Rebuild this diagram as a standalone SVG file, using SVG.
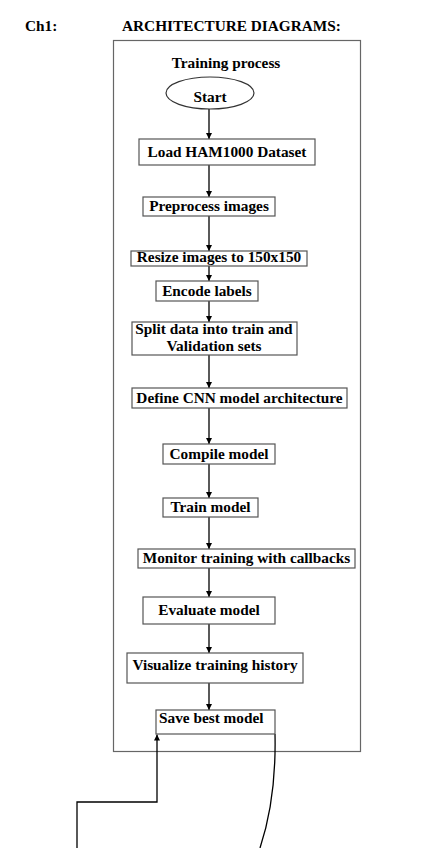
<svg xmlns="http://www.w3.org/2000/svg" width="435" height="848" viewBox="0 0 435 848">
<defs>
<marker id="ah" viewBox="0 0 10 10" refX="10" refY="5" markerWidth="6" markerHeight="6" orient="auto" markerUnits="userSpaceOnUse">
<path d="M0,0 L10,5 L0,10 z" fill="#000"/>
</marker>
</defs>
<style>
text{font-family:"Liberation Serif","Times New Roman",serif;font-weight:bold;font-size:15.3px;fill:#000}
.c{text-anchor:middle}
.box{fill:#fff;stroke:#555;stroke-width:1.2}
.frame{fill:none;stroke:#666;stroke-width:1.2}
.ln{fill:none;stroke:#000;stroke-width:1.3}
</style>
<rect width="435" height="848" fill="#fff"/>
<g id="title">
<text x="25" y="31">Ch1:</text>
<text x="122" y="31">ARCHITECTURE DIAGRAMS:</text>
</g>
<g id="frame">
<rect class="frame" x="113.5" y="40.5" width="247" height="711"/>
<text class="c" x="226" y="68">Training process</text>
</g>
<g id="connectors">
<line class="ln" x1="209" y1="109" x2="209" y2="139" marker-end="url(#ah)"/>
<line class="ln" x1="209" y1="165" x2="209" y2="197" marker-end="url(#ah)"/>
<line class="ln" x1="209" y1="216" x2="209" y2="251" marker-end="url(#ah)"/>
<line class="ln" x1="209" y1="266" x2="209" y2="281" marker-end="url(#ah)"/>
<line class="ln" x1="209" y1="301" x2="209" y2="322" marker-end="url(#ah)"/>
<line class="ln" x1="209" y1="355" x2="209" y2="388" marker-end="url(#ah)"/>
<line class="ln" x1="209" y1="408" x2="209" y2="444" marker-end="url(#ah)"/>
<line class="ln" x1="209" y1="464" x2="209" y2="498" marker-end="url(#ah)"/>
<line class="ln" x1="209" y1="517" x2="209" y2="549" marker-end="url(#ah)"/>
<line class="ln" x1="209" y1="568" x2="209" y2="597" marker-end="url(#ah)"/>
<line class="ln" x1="209" y1="624" x2="209" y2="653" marker-end="url(#ah)"/>
<line class="ln" x1="209" y1="683" x2="209" y2="710" marker-end="url(#ah)"/>
<path class="ln" d="M77,848 L77,802 L157,802 L157,734.5" marker-end="url(#ah)"/>
<path class="ln" d="M275,734 C276,780 271,815 260,848"/>
</g>
<g id="start">
<ellipse cx="210" cy="93" rx="44" ry="16" fill="#fff" stroke="#333" stroke-width="1.2"/>
<text class="c" x="210" y="102">Start</text>
</g>
<g id="load">
<rect class="box" x="139" y="139" width="176" height="26"/>
<text class="c" x="227" y="157">Load HAM1000 Dataset</text>
</g>
<g id="preprocess">
<rect class="box" x="143" y="197" width="132" height="19"/>
<text class="c" x="209" y="211">Preprocess images</text>
</g>
<g id="resize">
<rect class="box" x="131" y="251" width="176" height="15"/>
<text class="c" x="219" y="262">Resize images to 150x150</text>
</g>
<g id="encode">
<rect class="box" x="156" y="281" width="102" height="20"/>
<text class="c" x="207" y="296">Encode labels</text>
</g>
<g id="split">
<rect class="box" x="132" y="322" width="165" height="33"/>
<text class="c" x="214" y="334">Split data into train and</text>
<text class="c" x="214" y="351">Validation sets</text>
</g>
<g id="define">
<rect class="box" x="132" y="388" width="215" height="20"/>
<text class="c" x="239.5" y="403">Define CNN model architecture</text>
</g>
<g id="compile">
<rect class="box" x="163" y="444" width="112" height="20"/>
<text class="c" x="219" y="459">Compile model</text>
</g>
<g id="train">
<rect class="box" x="163" y="498" width="95" height="19"/>
<text class="c" x="210.5" y="512">Train model</text>
</g>
<g id="monitor">
<rect class="box" x="138" y="549" width="217" height="19"/>
<text class="c" x="246.5" y="563">Monitor training with callbacks</text>
</g>
<g id="evaluate">
<rect class="box" x="143" y="597" width="132" height="27"/>
<text class="c" x="209" y="615">Evaluate model</text>
</g>
<g id="visualize">
<rect class="box" x="127" y="653" width="176" height="30"/>
<text class="c" x="215" y="670">Visualize training history</text>
</g>
<g id="save">
<rect class="box" x="156" y="710" width="119" height="24"/>
<text x="159" y="723">Save best model</text>
</g>
</svg>
